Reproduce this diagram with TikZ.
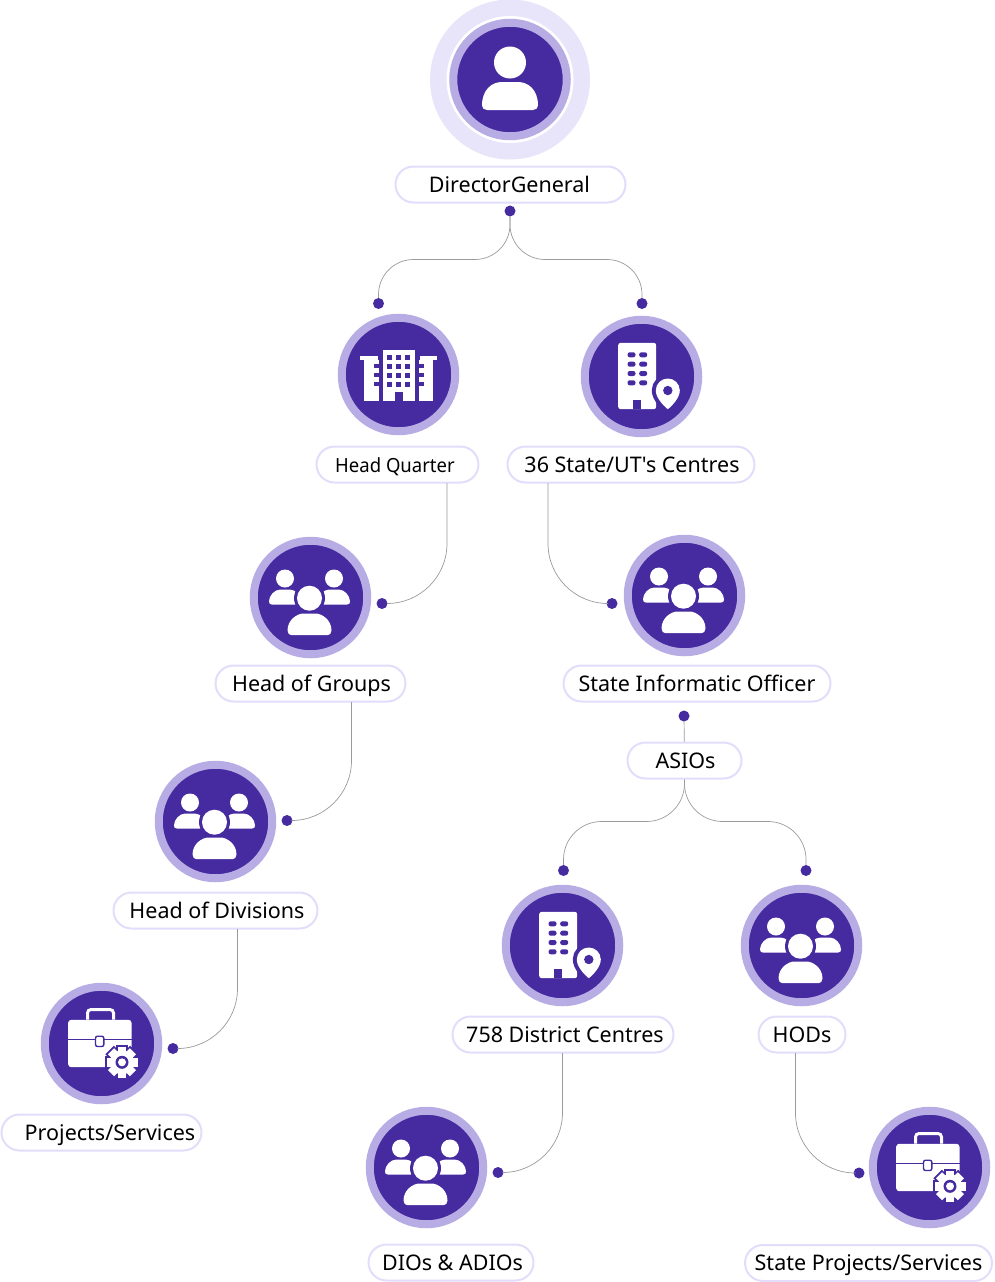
\documentclass[tikz,border=0pt]{standalone}
\usepackage{fontspec}
\setmainfont{Noto Sans}
\newfontfamily\labelfont{Noto Sans}
\newfontfamily\narrowfont[FakeStretch=0.95]{Noto Sans}
\definecolor{nicpurple}{HTML}{462AA0}
\definecolor{nicring}{HTML}{B8ACE4}
\definecolor{nichalo}{HTML}{E8E4F9}
\definecolor{nicedge}{HTML}{E2DDFA}
\definecolor{nicline}{HTML}{9A9A9A}
\tikzset{
  disc/.style={circle,fill=nicpurple,draw=nicring,line width=8pt,minimum size=113.5pt,inner sep=0pt},
  pill/.style={draw=nicedge,fill=white,line width=2pt,rounded corners=18pt,minimum height=36pt,
    inner sep=0pt,text=black,text height=15pt,text depth=0pt,font=\labelfont\fontsize{21.5}{21.5}\selectfont},
  dot/.style={circle,fill=nicpurple,minimum size=11pt,inner sep=0pt},
  link/.style={draw=nicline,line width=0.7pt},
  personicon/.pic={
    \fill[white] (0,-17) circle (16);
    \fill[white] (-28,26) .. controls (-28,10) and (-18,2.5) .. (-8,2.5) -- (8,2.5)
      .. controls (18,2.5) and (28,10) .. (28,26) .. controls (28,28.5) and (26,30.5) .. (23,30.5)
      -- (-23,30.5) .. controls (-26,30.5) and (-28,28.5) .. (-28,26) -- cycle;
  },
  groupicon/.pic={
    \begin{scope}[xshift=-1pt]
    \foreach \s in {-1,1} {
      \fill[white] (\s*24.5,-19) circle (9);
      \fill[white] (\s*40.5,4) .. controls (\s*40.5,-2) and (\s*35,-8) .. (\s*29,-8) -- (\s*20,-8)
        .. controls (\s*14,-8) and (\s*8.5,-2) .. (\s*8.5,4) -- (\s*8.5,7) -- (\s*37.5,7)
        .. controls (\s*39.5,7) and (\s*40.5,6) .. (\s*40.5,4) -- cycle;
    }
    \fill[nicpurple] (0,0.7) circle (15.5);
    \fill[white] (0,0.7) circle (12.5);
    \fill[nicpurple] (-26,14) rectangle (26,40);
    \fill[white] (-22,33) .. controls (-22,22) and (-12,16) .. (-6,16) -- (6,16)
      .. controls (12,16) and (22,22) .. (22,33) .. controls (22,36) and (20,37.7) .. (18,37.7)
      -- (-18,37.7) .. controls (-20,37.7) and (-22,36) .. (-22,33) -- cycle;
    \end{scope}
  },
  towericon/.pic={
    \fill[white] (-15.7,-24.7) rectangle (16.7,26.3);
    \fill[nicpurple] (-3.7,17.7) rectangle (4.3,26.3);
    \foreach \r in {-17.5,-8.5,0.5,9.5} \foreach \c in {-9,0,9}
      \fill[nicpurple] (\c-2.5,\r-2.5) rectangle (\c+2.5,\r+2.5);
    \foreach \s in {-1,1} {
      \fill[white] (\s*21,-19) rectangle (\s*38.5,-14.7);
      \fill[white] (\s*20,-15) rectangle (\s*34.5,26.3);
    }
    \foreach \r in {-9,0,9} {
      \fill[nicpurple] (-25,\r-2) rectangle (-20,\r+2);
      \fill[nicpurple] (20,\r-2) rectangle (25,\r+2);
    }
  },
  officeicon/.pic={
    \fill[white,rounded corners=2.5pt] (-23.3,32.7) rectangle (14.7,-33.7);
    \foreach \r in {-21.7,-12.3,-3,6.3} \foreach \c in {-10,1.7}
      \fill[nicpurple,rounded corners=2.2pt] (\c-4,\r-2.5) rectangle (\c+4,\r+2.5);
    \fill[nicpurple] (-8.3,23) rectangle (-0.3,32.7);
    \path[draw=nicpurple,line width=8pt,line join=round] (14.3,14) .. controls (14.3,7) and (20,2) .. (26.3,2)
      .. controls (32.6,2) and (38.3,7) .. (38.3,14)
      .. controls (38.3,21) and (31,29) .. (26.3,32.7)
      .. controls (21.6,29) and (14.3,21) .. (14.3,14) -- cycle;
    \fill[white] (14.3,14) .. controls (14.3,7) and (20,2) .. (26.3,2)
      .. controls (32.6,2) and (38.3,7) .. (38.3,14)
      .. controls (38.3,21) and (31,29) .. (26.3,32.7)
      .. controls (21.6,29) and (14.3,21) .. (14.3,14) -- cycle;
    \fill[nicpurple] (26.3,14) circle (4.7);
  },
  caseicon/.pic={
    \draw[white,line width=3pt,rounded corners=3.5pt] (-14,-24) -- (-14,-34) -- (12,-34) -- (12,-24);
    \fill[white,rounded corners=3pt] (-33.3,-23.7) rectangle (30,23.7);
    \draw[nicpurple,line width=1.2pt] (-33.3,-3.7) -- (30,-3.7);
    \draw[nicpurple,fill=white,line width=1.4pt,rounded corners=2pt] (-6,-7.3) rectangle (2.3,3);
    \fill[nicpurple] (20.5,18.8) circle (14);
    \foreach \a in {0,45,...,315}
      \fill[nicpurple,shift={(20.5,18.8)},rotate=\a] (-6,-17.5) rectangle (6,0);
    \foreach \a in {0,45,...,315}
      \fill[white,shift={(20.5,18.8)},rotate=\a] (-4.3,-15.5) rectangle (4.3,0);
    \fill[white] (20.5,18.8) circle (12);
    \fill[nicpurple] (20.5,18.8) circle (6.5);
    \fill[white] (20.5,18.8) circle (4);
  },
}
\begin{document}
\begin{tikzpicture}[x=1pt,y=-1pt]
  \useasboundingbox (0,0) rectangle (995,1282);
  % circles
  \node[circle,fill=nichalo,minimum size=160pt,inner sep=0pt] (dghalo) at (510,79.5) {};
  \node[circle,fill=white,minimum size=127pt,inner sep=0pt] (dggap) at (510,79.5) {};
  \node[disc] (dg) at (510,79.5) {};
  \node[disc] (hq) at (398.5,374.5) {};
  \node[disc] (state) at (641.5,376.5) {};
  \node[disc] (groups) at (310.5,597.5) {};
  \node[disc] (sio) at (684.5,595.5) {};
  \node[disc] (divisions) at (215.5,821.5) {};
  \node[disc] (projects) at (101.5,1043.5) {};
  \node[disc] (district) at (562.5,945.5) {};
  \node[disc] (hods) at (801.5,945.5) {};
  \node[disc] (dios) at (426.5,1167.5) {};
  \node[disc] (stateprojects) at (929.5,1167.5) {};
  % icons
  \pic at (dg) {personicon};
  \pic at (hq) {towericon};
  \pic at (state) {officeicon};
  \pic at (groups) {groupicon};
  \pic at (sio) {groupicon};
  \pic at (divisions) {groupicon};
  \pic at (projects) {caseicon};
  \pic at (district) {officeicon};
  \pic at (hods) {groupicon};
  \pic at (dios) {groupicon};
  \pic at (stateprojects) {caseicon};
  % labels
  \node[pill,minimum width=230pt] (dglabel) at (510.5,184.5) {DirectorGeneral\hspace*{2pt}};
  \node[pill,minimum width=162pt,font=\narrowfont\fontsize{19.5}{19.5}\selectfont] (hqlabel) at (397.5,464.5) {Head Quarter\hspace*{5pt}};
  \node[pill,minimum width=247pt] (statelabel) at (631,464.5) {\hspace*{2pt}36 State/UT's Centres};
  \node[pill,minimum width=190pt] (groupslabel) at (310.5,683.5) {\hspace*{2pt}Head of Groups};
  \node[pill,minimum width=267pt] (siolabel) at (697,683.5) {State Informatic Officer};
  \node[pill,minimum width=114pt] (asioslabel) at (684.5,760.5) {\hspace*{2pt}ASIOs};
  \node[pill,minimum width=204pt] (divisionslabel) at (215.5,910.5) {\hspace*{3pt}Head of Divisions};
  \node[pill,minimum width=200pt] (projectslabel) at (101.5,1132.5) {\hspace*{17pt}Projects/Services};
  \node[pill,minimum width=221pt] (districtlabel) at (563,1034.5) {\hspace*{4pt}758 District Centres};
  \node[pill,minimum width=87pt] (hodslabel) at (802,1034.5) {HODs};
  \node[pill,minimum width=165pt] (dioslabel) at (451,1262.5) {\hspace*{3pt}DIOs \& ADIOs};
  \node[pill,minimum width=247pt] (stateprojectslabel) at (868.5,1263) {State Projects/Services};
  % dots
  \node[dot] (dgdot) at (510,211) {};
  \node[dot] (hqdot) at (378.5,303.5) {};
  \node[dot] (statedot) at (642,303.5) {};
  \node[dot] (groupsdot) at (382,603.5) {};
  \node[dot] (siodot) at (612,603.5) {};
  \node[dot] (divisionsdot) at (287,820.5) {};
  \node[dot] (projectsdot) at (173,1048.5) {};
  \node[dot] (asiosdot) at (684,716) {};
  \node[dot] (districtdot) at (563.5,870.5) {};
  \node[dot] (hodsdot) at (806,870.5) {};
  \node[dot] (diosdot) at (498,1172.5) {};
  \node[dot] (stateprojectsdot) at (859,1173) {};
  % connector ends
  \coordinate (dgfork) at (510,259.5);
  \coordinate (asiosfork) at (684.5,821.5);
  \coordinate (hqout) at (447,483);
  \coordinate (stateout) at (548,483);
  \coordinate (groupsout) at (351.5,702);
  \coordinate (divisionsout) at (237.5,929);
  \coordinate (districtout) at (562.5,1053);
  \coordinate (hodsout) at (795.5,1053);
  % connectors
  \begin{scope}[rounded corners=35pt]
    \draw[link] (dgdot) -- (dgfork) -| (hqdot);
    \draw[link] (dgdot) -- (dgfork) -| (statedot);
  \end{scope}
  \begin{scope}[rounded corners=38pt]
    \draw[link] (asioslabel) -- (asiosfork) -| (districtdot);
    \draw[link] (asioslabel) -- (asiosfork) -| (hodsdot);
  \end{scope}
  \draw[link] (asiosdot) -- (asioslabel);
  \begin{scope}[rounded corners=60pt]
    \draw[link] (hqout) |- (groupsdot);
    \draw[link] (stateout) |- (siodot);
    \draw[link] (groupsout) |- (divisionsdot);
    \draw[link] (divisionsout) |- (projectsdot);
    \draw[link] (districtout) |- (diosdot);
    \draw[link] (hodsout) |- (stateprojectsdot);
  \end{scope}
\end{tikzpicture}
\end{document}
